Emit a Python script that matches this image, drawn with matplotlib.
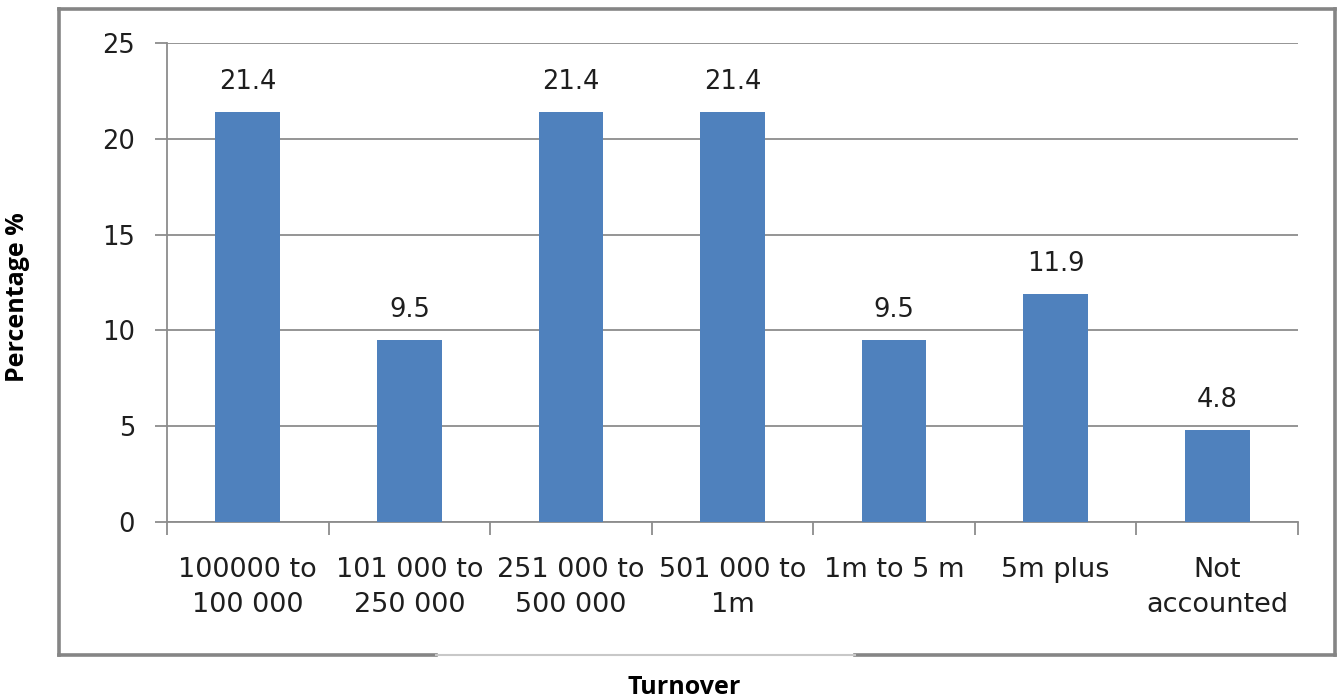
import matplotlib
matplotlib.use("Agg")
import matplotlib.pyplot as plt
from matplotlib.lines import Line2D

categories = ["100000 to\n100 000", "101 000 to\n250 000", "251 000 to\n500 000",
              "501 000 to\n1m", "1m to 5 m", "5m plus", "Not\naccounted"]
percentages = [21.4, 9.5, 21.4, 21.4, 9.5, 11.9, 4.8]
y_ticks = [0, 5, 10, 15, 20, 25]

BAR_COLOR = "#4F81BD"
GRID_COLOR = "#8C8C8C"
FONT = "DejaVu Sans"
TITLE_FONT = "Open Sans"
TEXT_COLOR = "#1E1E1E"

W, H = 1339, 698
fig = plt.figure(figsize=(W / 100, H / 100), dpi=100)
fig.patch.set_facecolor("white")

ax = fig.add_axes([167 / W, 1 - 522 / H, (1298 - 167) / W, (522 - 43) / H])

x = list(range(len(categories)))
ax.bar(x, percentages, width=0.40, color=BAR_COLOR, zorder=3)

for xi, v in zip(x, percentages):
    ax.annotate(f"{v:g}", (xi, v), xytext=(0, 12), textcoords="offset points",
                ha="center", va="bottom", fontsize=18.5, family=FONT,
                color=TEXT_COLOR)

ax.set_xlim(-0.5, len(categories) - 0.5)
ax.set_ylim(0, 25)
ax.set_yticks(y_ticks)
ax.yaxis.grid(True, color=GRID_COLOR, linewidth=1.3, zorder=0)
ax.tick_params(axis="y", length=9, width=1.3, color=GRID_COLOR, pad=14,
               labelsize=18.5, labelcolor=TEXT_COLOR)
for lbl in ax.get_yticklabels():
    lbl.set_family(FONT)

ax.set_xticks(x)
ax.set_xticklabels(categories, family=FONT, fontsize=19.5, color=TEXT_COLOR,
                   linespacing=1.45)
ax.tick_params(axis="x", which="major", length=0, pad=25)
ax.set_xticks([i - 0.5 for i in range(len(categories) + 1)], minor=True)
ax.tick_params(axis="x", which="minor", length=9, width=1.3, color=GRID_COLOR,
               direction="out")

for side in ("top", "right"):
    ax.spines[side].set_visible(False)
for side in ("left", "bottom"):
    ax.spines[side].set_color(GRID_COLOR)
    ax.spines[side].set_linewidth(1.3)

# Outer frame around the chart area
def fx(px):
    return px / W

def fy(py):
    return 1 - py / H

frame_kw = dict(color="#858585", linewidth=2.6, transform=fig.transFigure)
fig.add_artist(Line2D([fx(59), fx(1335)], [fy(9), fy(9)], **frame_kw))
fig.add_artist(Line2D([fx(59), fx(59)], [fy(9), fy(655)], **frame_kw))
fig.add_artist(Line2D([fx(1335), fx(1335)], [fy(9), fy(655)], **frame_kw))
fig.add_artist(Line2D([fx(59), fx(436)], [fy(655), fy(655)], **frame_kw))
fig.add_artist(Line2D([fx(855), fx(1335)], [fy(655), fy(655)], **frame_kw))
fig.add_artist(Line2D([fx(436), fx(855)], [fy(655), fy(655)], color="#C8C8C8",
                      linewidth=1.5, transform=fig.transFigure))

fig.text(fx(18), fy(297), "Percentage %", rotation=90, ha="center", va="center",
         fontsize=18, fontweight="bold", family=TITLE_FONT)
fig.text(fx(684), fy(688), "Turnover", ha="center", va="center",
         fontsize=18, fontweight="bold", family=TITLE_FONT)

fig.savefig("out.png", dpi=100, facecolor="white")
